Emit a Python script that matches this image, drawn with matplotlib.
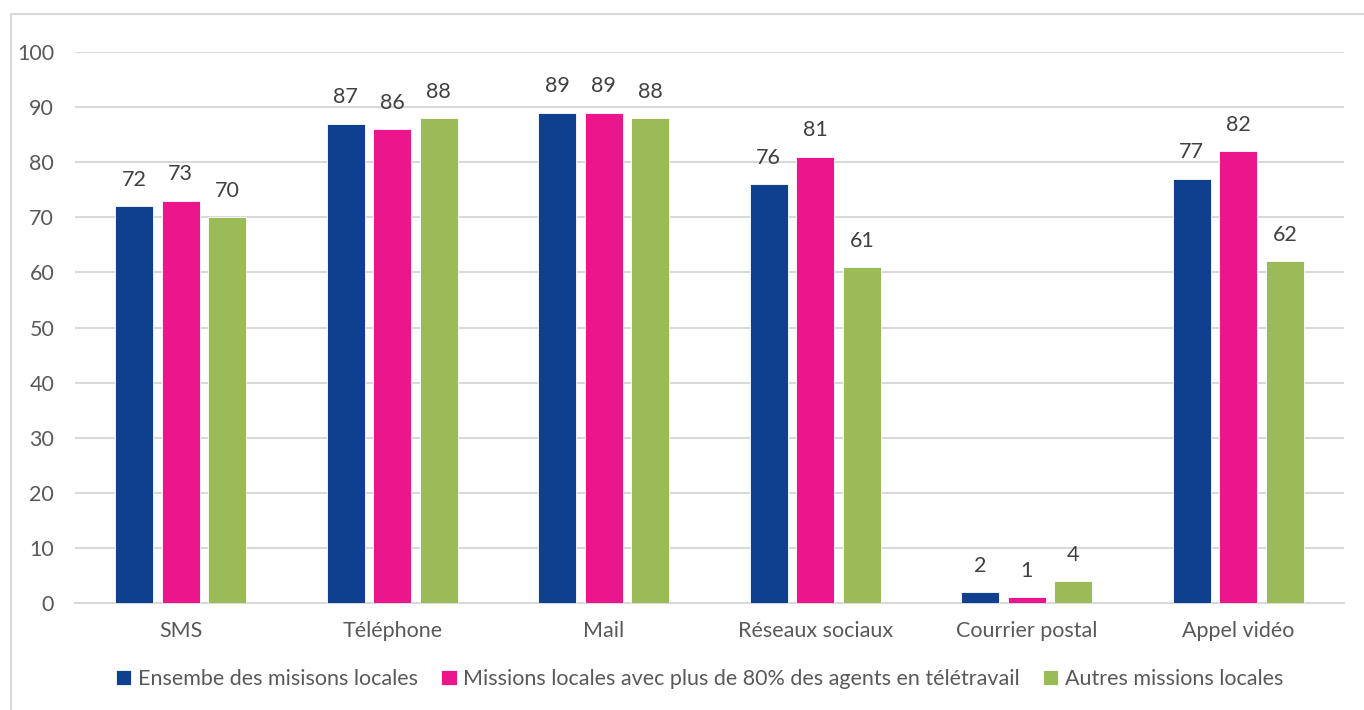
import numpy as np
import matplotlib.pyplot as plt
from matplotlib.lines import Line2D

categories = ['SMS', 'Téléphone', 'Mail', 'Réseaux sociaux', 'Courrier postal', 'Appel vidéo']
series_names = ['Ensembe des misisons locales',
                'Missions locales avec plus de 80% des agents en télétravail',
                'Autres missions locales']
ensemble = [72, 87, 89, 76, 2, 77]
teletravail = [73, 86, 89, 81, 1, 82]
autres = [70, 88, 88, 61, 4, 62]
colors = ['#0F3F8F', '#EC168C', '#9BBB59']

plt.rcParams['font.family'] = ['Lato', 'DejaVu Sans']

fig = plt.figure(figsize=(13.64, 7.10), dpi=100)
ax = fig.add_axes([75 / 1364, 1 - 603 / 710, (1344 - 75) / 1364, (603 - 52) / 710])

x = np.arange(len(categories))
step = 0.22
width = 0.178
for i, (vals, name, c) in enumerate(zip([ensemble, teletravail, autres], series_names, colors)):
    bars = ax.bar(x + (i - 1) * step, vals, width, color=c, edgecolor='white', linewidth=0.6,
                  label=name, zorder=3)
    for b, v in zip(bars, vals):
        ax.annotate(str(v), (b.get_x() + b.get_width() / 2, v), xytext=(0, 19),
                    textcoords='offset points', ha='center', va='center',
                    fontsize=15.5, color='#404040')

ax.set_xlim(-0.5, len(categories) - 0.5)
ax.set_ylim(0, 100)
ax.set_yticks(range(0, 101, 10))
ax.set_xticks(x)
ax.set_xticklabels(categories)
ax.grid(axis='y', color='#D9D9D9', linewidth=1.5, zorder=0)
for s in ['top', 'right', 'left']:
    ax.spines[s].set_visible(False)
ax.spines['bottom'].set_color('#D9D9D9')
ax.spines['bottom'].set_linewidth(1.5)
ax.tick_params(axis='y', length=0, pad=15, labelsize=15.5, labelcolor='#595959')
ax.tick_params(axis='x', length=0, pad=13, labelsize=15.5, labelcolor='#595959')

fig.legend(loc='center', bbox_to_anchor=(0.513, 1 - 679 / 710), ncol=3, frameon=False,
           fontsize=15.5, labelcolor='#595959', handlelength=0.7, handleheight=0.7,
           handletextpad=0.3, columnspacing=1.1)

# outer chart border (top and left visible)
fig.add_artist(Line2D([11 / 1364, 11 / 1364], [0, 1 - 14 / 710], color='#D9D9D9', linewidth=1.5))
fig.add_artist(Line2D([11 / 1364, 1], [1 - 14 / 710, 1 - 14 / 710], color='#D9D9D9', linewidth=1.5))

fig.savefig('out.png', dpi=100)
